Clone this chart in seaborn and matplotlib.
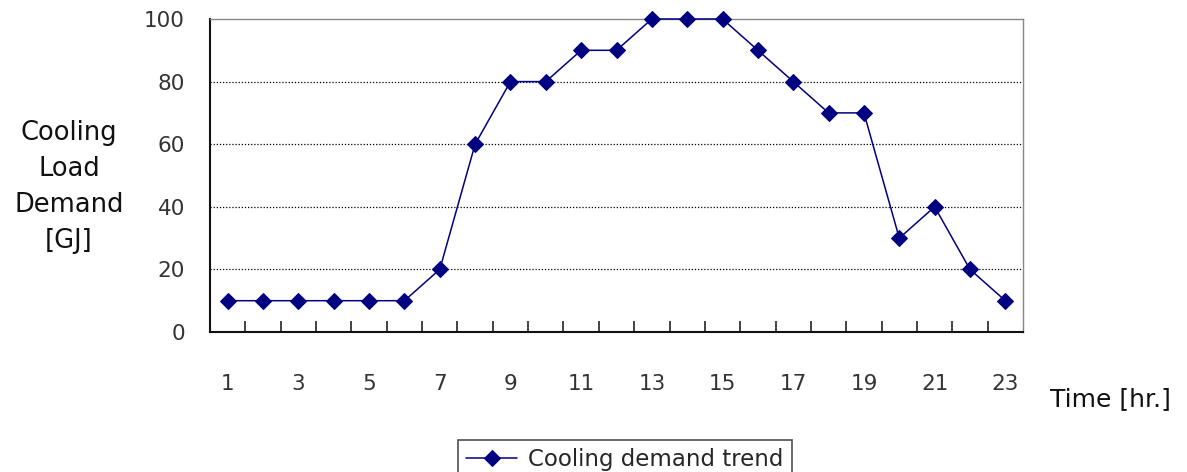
import matplotlib
matplotlib.use("Agg")
import matplotlib.pyplot as plt
import seaborn as sns
import pandas as pd
import numpy as np

hours = list(range(1, 24))
demand = [10, 10, 10, 10, 10, 10, 20, 60, 80, 80, 90, 90, 100, 100, 100,
          90, 80, 70, 70, 30, 40, 20, 10]
x_labels = [str(h) for h in range(1, 24, 2)]
y_ticks = [0, 20, 40, 60, 80, 100]

sns.set_style("white")
plt.rcParams["font.family"] = ["DejaVu Sans"]

df = pd.DataFrame({"Time": hours, "Demand": demand})

fig = plt.figure(figsize=(11.87, 4.72), dpi=100)
ax = fig.add_axes([210 / 1187, 1 - 332 / 472, (1023 - 210) / 1187, (332 - 19) / 472])

sns.lineplot(data=df, x="Time", y="Demand", ax=ax, color="#000080",
             marker="D", markersize=8.5, markeredgecolor="#000080",
             linewidth=1.1, label="Cooling demand trend", legend=False,
             clip_on=False, zorder=5)

ax.set_xlim(0.5, 23.5)
ax.set_ylim(0, 100)

# dotted horizontal gridlines
for v in y_ticks[1:-1]:
    ax.axhline(v, color="black", linestyle=(0, (1, 1.5)), linewidth=0.9, zorder=0)

ax.set_yticks(y_ticks)
ax.set_yticklabels([str(v) for v in y_ticks], fontsize=15.5, color="#333333")
ax.tick_params(axis="y", length=0, pad=18)

ax.set_xticks(list(range(1, 24, 2)))
ax.set_xticklabels(x_labels, fontsize=15.5, color="#333333")
ax.tick_params(axis="x", which="major", length=0, pad=30)
ax.set_xticks(np.arange(1.5, 23.5, 1.0), minor=True)
ax.tick_params(axis="x", which="minor", bottom=True, direction="in",
               length=8, width=1.2, color="#222222")

for side in ["left", "bottom"]:
    ax.spines[side].set_color("#111111")
    ax.spines[side].set_linewidth(1.5)
for side in ["top", "right"]:
    ax.spines[side].set_visible(True)
    ax.spines[side].set_color("#888888")
    ax.spines[side].set_linewidth(1.0)

ax.set_xlabel("")
ax.set_ylabel("")

fig.text(69 / 1187, 1 - 187 / 472, "Cooling\nLoad\nDemand\n[GJ]", ha="center", va="center",
         fontsize=18.5, linespacing=1.5, color="#111111")
fig.text(1110 / 1187, 1 - 399 / 472, "Time [hr.]", ha="center", va="center",
         fontsize=18, color="#111111")

handles, labels = ax.get_legend_handles_labels()
leg = fig.legend(handles, labels, loc="upper center",
                 bbox_to_anchor=(625 / 1187, 1 - 429 / 472), fontsize=16.5,
                 frameon=True, fancybox=False, handlelength=2.2, borderpad=0.35,
                 handletextpad=0.5)
leg.get_frame().set_edgecolor("#222222")
leg.get_frame().set_linewidth(1.2)

fig.savefig("out.png", dpi=100)
